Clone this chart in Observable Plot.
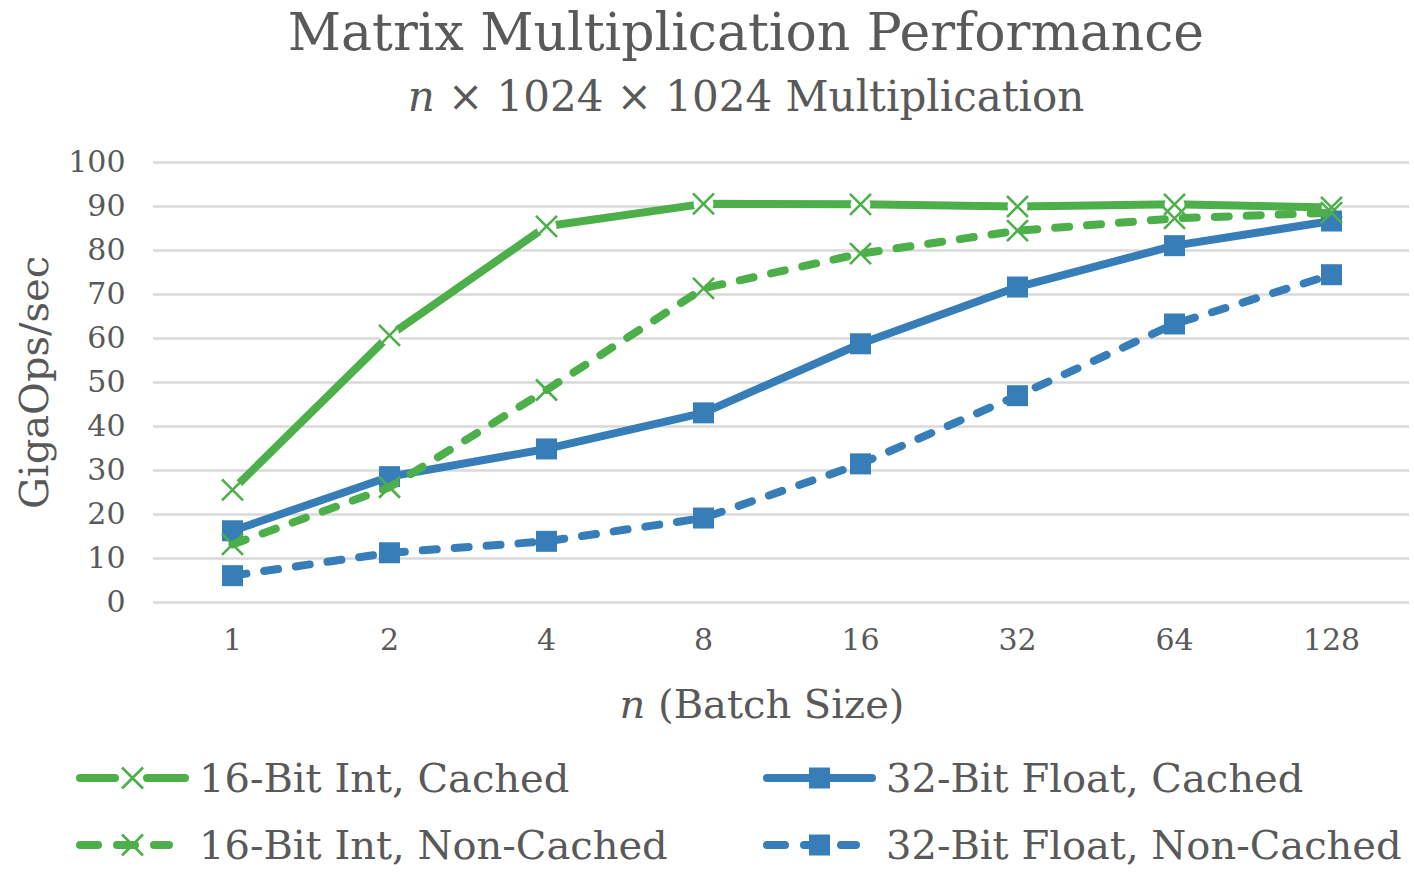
<!DOCTYPE html>
<html>
<head>
<meta charset="utf-8">
<script src="https://cdn.jsdelivr.net/npm/d3@7"></script>
<script src="https://cdn.jsdelivr.net/npm/@observablehq/plot@0.6"></script>
<style>
  html, body { margin: 0; padding: 0; background: #fff; }
  body { width: 1414px; height: 876px; overflow: hidden; font-family: "DejaVu Serif", serif; color: #595959; }
  .title, .subtitle, .xlabel { box-sizing: border-box; text-align: center; white-space: nowrap; }
  .title { height: 64px; line-height: 64px; font-size: 52px; padding-left: 78px; }
  .subtitle { height: 66px; line-height: 66px; font-size: 42px; padding-left: 78px; }
  #chart svg { display: block; }
  .xlabel { height: 84px; padding-top: 4px; line-height: 80px; font-size: 40px; padding-left: 110px; }
  .legend { display: grid; grid-template-columns: 687px auto; padding-left: 76px; }
  .legend-item { display: flex; align-items: center; height: 67px; font-size: 40px; white-space: nowrap; }
  .legend-item svg { margin-right: 10px; flex: none; display: block; }
</style>
</head>
<body>
<div class="title">Matrix Multiplication Performance</div>
<div class="subtitle"><i>n</i> × 1024 × 1024 Multiplication</div>
<div id="chart"></div>
<div class="xlabel"><i>n</i> (Batch Size)</div>
<div class="legend" id="legend"></div>
<script>
// Batch sizes on the x axis
const batchSizes = ["1", "2", "4", "8", "16", "32", "64", "128"];

// Throughput in GigaOps/sec for each batch size
const int16Cached      = [25.6, 60.7, 85.5, 90.6, 90.5, 90.0, 90.5, 89.8];
const float32Cached    = [16.3, 28.6, 34.9, 43.1, 58.8, 71.7, 81.1, 86.7];
const int16NonCached   = [13.2, 26.2, 48.3, 71.4, 79.3, 84.5, 87.3, 88.6];
const float32NonCached = [6.1, 11.3, 13.9, 19.2, 31.5, 47.0, 63.3, 74.5];

const yTicks = [0, 10, 20, 30, 40, 50, 60, 70, 80, 90, 100];

// Series in drawing (and legend) order
const seriesNames   = ["16-Bit Int, Cached", "32-Bit Float, Cached", "16-Bit Int, Non-Cached", "32-Bit Float, Non-Cached"];
const seriesValues  = [int16Cached, float32Cached, int16NonCached, float32NonCached];
const seriesColors  = ["#4daf4a", "#377eb8", "#4daf4a", "#377eb8"];
const seriesDash    = [null, null, "14,18", "14,18"];
const seriesSymbols = ["times", "square", "times", "square"];
const seriesGapped  = [true, false, false, false]; // line broken around its markers

const textColor = "#595959";
const lineWidth = 8;

const marks = [Plot.ruleY(yTicks, {stroke: "#d9d9d9", strokeWidth: 2.5})];

seriesNames.forEach((name, k) => {
  const rows = batchSizes.map((n, i) => ({series: name, n, value: seriesValues[k][i]}));
  const color = seriesColors[k];
  marks.push(Plot.line(rows, {
    x: "n", y: "value", stroke: color, strokeWidth: lineWidth,
    strokeDasharray: seriesDash[k] || undefined,
    strokeLinecap: seriesDash[k] ? "round" : "butt",
    strokeLinejoin: "round"
  }));
  if (seriesGapped[k]) {
    marks.push(Plot.dot(rows, {x: "n", y: "value", r: 10, fill: "white", stroke: "none"}));
  }
  if (seriesSymbols[k] === "times") {
    marks.push(Plot.dot(rows, {x: "n", y: "value", symbol: "times", r: 9.6, stroke: color, strokeWidth: 2.6, fill: "none"}));
  } else {
    marks.push(Plot.dot(rows, {x: "n", y: "value", symbol: "square", r: 11.85, fill: color, stroke: "none"}));
  }
});

// Vertical y-axis title, centred on the plot area
marks.push(Plot.text(["GigaOps/sec"], {
  text: d => d, frameAnchor: "left", textAnchor: "middle", lineAnchor: "middle",
  dx: -118, rotate: -90, fontSize: 40, fill: textColor
}));

const chart = Plot.plot({
  width: 1414,
  height: 530,
  marginTop: 32,
  marginBottom: 58,
  marginLeft: 153,
  marginRight: 5,
  x: {type: "point", domain: batchSizes, padding: 0.5, tickSize: 0, tickPadding: 26, label: null},
  y: {domain: [0, 100], ticks: yTicks, tickSize: 0, tickPadding: 28, label: null},
  style: {fontFamily: "DejaVu Serif", fontSize: "30px", color: textColor, background: "white", overflow: "visible"},
  marks
});
document.getElementById("chart").appendChild(chart);

// Legend: swatch of line style + marker, then the series name
const legend = d3.select("#legend");
seriesNames.forEach((name, k) => {
  const item = legend.append("div").attr("class", "legend-item");
  const w = 113, h = 30, cx = 56.5, cy = 15;
  const svg = item.append("svg").attr("width", w).attr("height", h);
  const color = seriesColors[k];
  if (seriesDash[k]) {
    svg.append("line").attr("x1", 4).attr("x2", 93).attr("y1", cy).attr("y2", cy)
      .attr("stroke", color).attr("stroke-width", lineWidth)
      .attr("stroke-linecap", "round").attr("stroke-dasharray", "18,19");
  } else if (seriesGapped[k]) {
    [[4, 39], [71, 109]].forEach(([a, b]) => {
      svg.append("line").attr("x1", a).attr("x2", b).attr("y1", cy).attr("y2", cy)
        .attr("stroke", color).attr("stroke-width", lineWidth).attr("stroke-linecap", "round");
    });
  } else {
    svg.append("line").attr("x1", 4).attr("x2", 109).attr("y1", cy).attr("y2", cy)
      .attr("stroke", color).attr("stroke-width", lineWidth).attr("stroke-linecap", "round");
  }
  if (seriesSymbols[k] === "times") {
    const s = 10.5;
    svg.append("path")
      .attr("d", `M${cx - s},${cy - s}L${cx + s},${cy + s}M${cx - s},${cy + s}L${cx + s},${cy - s}`)
      .attr("stroke", color).attr("stroke-width", 2.6).attr("fill", "none");
  } else {
    svg.append("rect").attr("x", cx - 10.5).attr("y", cy - 10.5).attr("width", 21).attr("height", 21)
      .attr("fill", color);
  }
  item.append("span").text(name);
});
</script>
</body>
</html>
